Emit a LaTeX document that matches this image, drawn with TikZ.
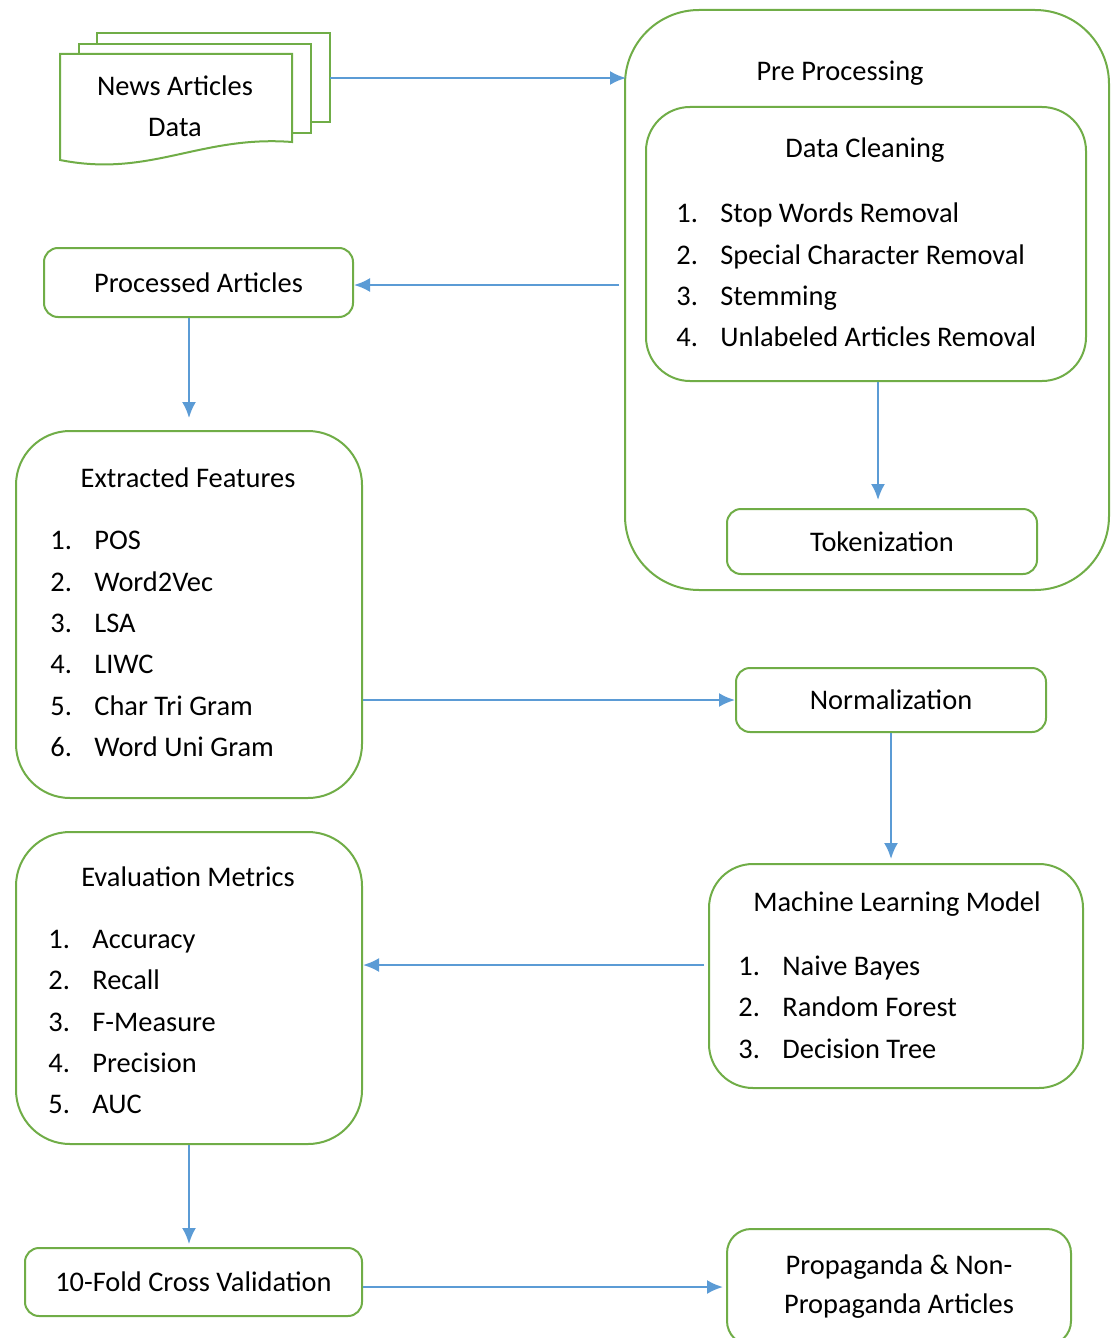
\documentclass[tikz,border=0pt]{standalone}
\usepackage{fontspec}
\setmainfont{Carlito}
\usepackage{tikz}
\usetikzlibrary{arrows.meta}

\definecolor{boxgreen}{RGB}{112,173,71}
\definecolor{arrowblue}{RGB}{91,155,213}

\newcommand{\itm}[2]{\makebox[22pt][l]{#1}#2}

\begin{document}
\begin{tikzpicture}[x=0.5pt,y=-0.5pt,font=\fontsize{14.2}{20.7}\selectfont]
  \tikzset{
    box/.style={draw=boxgreen, line width=1pt, rectangle, rounded corners=7pt, fill=white, inner sep=0pt, align=center},
    bigbox/.style={box, rounded corners=22pt},
    title/.style={inner sep=0pt},
    list/.style={inner sep=0pt, align=left, anchor=west},
    sheet/.style={draw=boxgreen, line width=1pt, fill=white},
    line/.style={draw=arrowblue, line width=1.1pt, -{Latex[length=8pt,width=7pt]}},
  }
  \useasboundingbox (0,0) rectangle (1111,1338);

  % stacked news articles
  \draw [sheet] (97,33) rectangle (330,122);
  \draw [sheet] (79,44) rectangle (311,133);
  \draw [sheet] (60,160) -- (60,54) -- (292,54) -- (292,142)
    .. controls (200,135) and (150,178) .. cycle;
  \node [title, align=center] (news) at (175,106) {News Articles\\Data};
  \coordinate (newsout) at (330,78);

  % pre processing
  \node [bigbox, rounded corners=37pt, minimum width=242pt, minimum height=290pt] (pre) at (867,300) {};
  \node [title] (pretitle) at (840,73) {Pre Processing};
  \node [bigbox, minimum width=220pt, minimum height=137pt] (dc) at (866,244) {};
  \node [title] (dctitle) at (865,150) {Data Cleaning};
  \node [list] (dclist) at (676,275) {\itm{1.}{Stop Words Removal}\\ \itm{2.}{Special Character Removal}\\ \itm{3.}{Stemming}\\ \itm{4.}{Unlabeled Articles Removal}};
  \node [box, minimum width=155pt, minimum height=32.5pt] (tok) at (882,541.5) {Tokenization};

  % left column
  \node [box, minimum width=154.5pt, minimum height=34.5pt] (proc) at (198.5,282.5) {Processed Articles};
  \node [bigbox, rounded corners=27pt, minimum width=173pt, minimum height=183.5pt] (feat) at (189,614.5) {};
  \node [title] (feattitle) at (188,478) {Extracted Features};
  \node [list] (featlist) at (50,644) {\itm{1.}{POS}\\ \itm{2.}{Word2Vec}\\ \itm{3.}{LSA}\\ \itm{4.}{LIWC}\\ \itm{5.}{Char Tri Gram}\\ \itm{6.}{Word Uni Gram}};
  \node [bigbox, rounded corners=27pt, minimum width=173pt, minimum height=156pt] (eval) at (189,988) {};
  \node [title] (evaltitle) at (188,877) {Evaluation Metrics};
  \node [list] (evallist) at (48,1022) {\itm{1.}{Accuracy}\\ \itm{2.}{Recall}\\ \itm{3.}{F-Measure}\\ \itm{4.}{Precision}\\ \itm{5.}{AUC}};
  \node [box, minimum width=168.5pt, minimum height=34pt] (cv) at (193.5,1282) {10-Fold Cross Validation};

  % right column
  \node [box, minimum width=155pt, minimum height=32pt] (norm) at (891,700) {Normalization};
  \node [bigbox, minimum width=187pt, minimum height=112pt] (ml) at (896,976) {};
  \node [title] (mltitle) at (897,904) {Machine Learning Model};
  \node [list] (mllist) at (738,1007) {\itm{1.}{Naive Bayes}\\ \itm{2.}{Random Forest}\\ \itm{3.}{Decision Tree}};
  \node [box, rounded corners=12pt, minimum width=172pt, minimum height=58pt, font=\fontsize{14.2}{19.5}\selectfont] (prop) at (899,1287) {Propaganda \& Non-\\Propaganda Articles};

  % arrows
  \path [line] (newsout) -- ([xshift=1pt]pre.west |- newsout);
  \path [line] ([xshift=-2.5pt]pre.west |- 0,285) -- (proc.east |- 0,285);
  \path [line] (feat.north |- proc.south) -- ([yshift=6pt]feat.north);
  \path [line] ([xshift=-2pt]tok.north |- dc.south) -- ([xshift=-2pt,yshift=4pt]tok.north);
  \path [line] (norm.south) -- ([yshift=2pt]norm.south |- ml.north);
  \path [line] (feat.east |- norm.west) -- (norm.west);
  \path [line] ([xshift=-2pt,yshift=5.5pt]ml.west) -- ([yshift=5.5pt]ml.west -| eval.east);
  \path [line] (eval.south) -- ([yshift=1.5pt]eval.south |- cv.north);
  \path [line] (cv.east |- prop.west) -- ([xshift=-1.5pt]prop.west);
\end{tikzpicture}
\end{document}
